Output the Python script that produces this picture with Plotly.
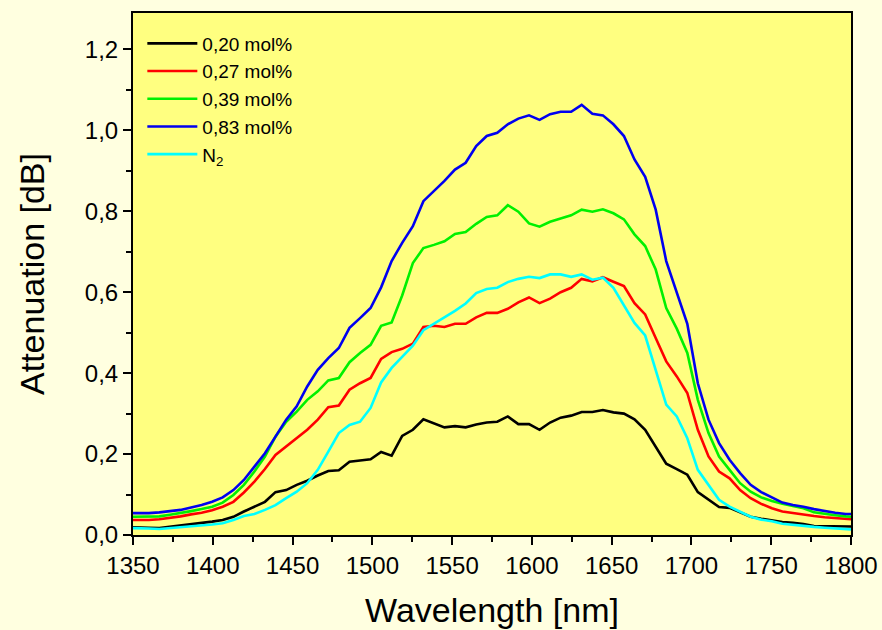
import plotly.graph_objects as go

wavelength = [1350.0, 1353.3, 1359.9, 1366.5, 1373.2, 1379.8, 1386.4, 1393.0, 1399.6, 1406.2,
              1412.9, 1419.5, 1426.1, 1432.7, 1439.3, 1446.0, 1452.6, 1459.2, 1465.8, 1472.4,
              1479.0, 1485.7, 1492.3, 1498.9, 1505.5, 1512.1, 1518.7, 1525.4, 1532.0, 1538.6,
              1545.2, 1551.8, 1558.5, 1565.1, 1571.7, 1578.3, 1584.9, 1591.5, 1598.2, 1604.8,
              1611.4, 1618.0, 1624.6, 1631.2, 1637.9, 1644.5, 1651.1, 1657.7, 1664.3, 1671.0,
              1677.6, 1684.2, 1690.8, 1697.4, 1704.0, 1710.7, 1717.3, 1723.9, 1730.5, 1737.1,
              1743.7, 1750.4, 1757.0, 1763.6, 1770.2, 1776.8, 1783.5, 1790.1, 1796.7, 1800.0]

att_020 = [0.019, 0.019, 0.018, 0.017, 0.020, 0.023, 0.027, 0.030, 0.033, 0.037,
           0.045, 0.058, 0.070, 0.082, 0.106, 0.111, 0.124, 0.134, 0.147, 0.158,
           0.160, 0.181, 0.184, 0.187, 0.205, 0.196, 0.245, 0.260, 0.286, 0.275,
           0.266, 0.269, 0.266, 0.273, 0.278, 0.280, 0.293, 0.274, 0.274, 0.260,
           0.278, 0.290, 0.295, 0.304, 0.304, 0.309, 0.303, 0.300, 0.286, 0.260,
           0.218, 0.176, 0.163, 0.149, 0.106, 0.088, 0.069, 0.067, 0.056, 0.045,
           0.040, 0.036, 0.032, 0.030, 0.027, 0.022, 0.022, 0.021, 0.021, 0.021]

att_027 = [0.037, 0.037, 0.037, 0.039, 0.042, 0.046, 0.051, 0.055, 0.061, 0.070,
           0.082, 0.105, 0.132, 0.163, 0.198, 0.219, 0.239, 0.260, 0.285, 0.316,
           0.320, 0.359, 0.375, 0.388, 0.435, 0.452, 0.460, 0.473, 0.514, 0.517,
           0.514, 0.522, 0.522, 0.538, 0.549, 0.549, 0.559, 0.575, 0.587, 0.573,
           0.584, 0.600, 0.611, 0.633, 0.627, 0.637, 0.626, 0.615, 0.573, 0.545,
           0.487, 0.429, 0.392, 0.351, 0.260, 0.194, 0.157, 0.140, 0.111, 0.091,
           0.077, 0.066, 0.058, 0.054, 0.050, 0.047, 0.044, 0.042, 0.039, 0.039]

att_039 = [0.045, 0.045, 0.045, 0.046, 0.050, 0.054, 0.059, 0.064, 0.070, 0.080,
           0.099, 0.124, 0.157, 0.194, 0.243, 0.280, 0.305, 0.334, 0.355, 0.382,
           0.388, 0.427, 0.450, 0.470, 0.517, 0.525, 0.592, 0.672, 0.709, 0.717,
           0.726, 0.744, 0.749, 0.769, 0.786, 0.790, 0.815, 0.799, 0.770, 0.762,
           0.774, 0.782, 0.790, 0.804, 0.799, 0.805, 0.795, 0.780, 0.743, 0.714,
           0.656, 0.561, 0.510, 0.450, 0.334, 0.252, 0.194, 0.161, 0.128, 0.107,
           0.093, 0.084, 0.077, 0.072, 0.066, 0.056, 0.052, 0.049, 0.046, 0.045]

att_083 = [0.054, 0.054, 0.054, 0.056, 0.059, 0.062, 0.068, 0.074, 0.082, 0.093,
           0.111, 0.136, 0.169, 0.202, 0.243, 0.285, 0.318, 0.367, 0.408, 0.437,
           0.462, 0.512, 0.536, 0.561, 0.612, 0.677, 0.722, 0.763, 0.825, 0.850,
           0.875, 0.903, 0.920, 0.961, 0.986, 0.994, 1.015, 1.029, 1.037, 1.026,
           1.040, 1.046, 1.046, 1.063, 1.041, 1.037, 1.015, 0.986, 0.928, 0.885,
           0.804, 0.677, 0.598, 0.522, 0.375, 0.285, 0.227, 0.186, 0.153, 0.124,
           0.106, 0.092, 0.080, 0.074, 0.070, 0.064, 0.059, 0.055, 0.052, 0.052]

att_n2 = [0.017, 0.017, 0.016, 0.015, 0.017, 0.019, 0.021, 0.024, 0.026, 0.029,
          0.037, 0.047, 0.052, 0.062, 0.074, 0.091, 0.107, 0.128, 0.161, 0.206,
          0.252, 0.272, 0.280, 0.314, 0.377, 0.413, 0.441, 0.468, 0.506, 0.522,
          0.536, 0.554, 0.572, 0.598, 0.608, 0.611, 0.625, 0.633, 0.638, 0.635,
          0.644, 0.644, 0.638, 0.644, 0.631, 0.636, 0.611, 0.569, 0.524, 0.493,
          0.408, 0.322, 0.293, 0.239, 0.161, 0.124, 0.087, 0.070, 0.058, 0.045,
          0.038, 0.034, 0.028, 0.025, 0.022, 0.020, 0.018, 0.017, 0.015, 0.014]

series_names = ["0,20 mol%", "0,27 mol%", "0,39 mol%", "0,83 mol%", "N<sub>2</sub>"]
series_values = [att_020, att_027, att_039, att_083, att_n2]
series_colors = ["#000000", "#FF0000", "#00F000", "#0000F0", "#00FFFF"]

FONT = "Liberation Sans, Arial, sans-serif"

fig = go.Figure()
for name, vals, col in zip(series_names, series_values, series_colors):
    fig.add_trace(go.Scatter(x=wavelength, y=vals, mode="lines", name=name,
                             line=dict(color=col, width=2.6)))

fig.update_layout(
    width=882, height=630,
    margin=dict(l=133, r=31, t=13, b=95, autoexpand=False),
    paper_bgcolor="#FFFFE0",
    plot_bgcolor="#FFFF80",
    separators=",.",
    font=dict(family=FONT, color="#000000"),
    showlegend=True,
    legend=dict(x=0.013, y=0.978, xanchor="left", yanchor="top",
                bgcolor="rgba(0,0,0,0)", font=dict(size=19, family=FONT),
                tracegroupgap=0, itemwidth=50),
)

fig.update_xaxes(
    range=[1350, 1800], tickmode="linear", tick0=1350, dtick=50, tickformat="d",
    ticks="outside", ticklen=8, tickwidth=2, tickcolor="#000",
    minor=dict(ticks="outside", ticklen=5, tickwidth=2, tickcolor="#000", dtick=25, tick0=1350),
    showline=True, linecolor="#000", linewidth=2, mirror=True,
    showgrid=False, zeroline=False, automargin=False,
    tickfont=dict(size=24, family=FONT),
    title=dict(text="Wavelength [nm]", font=dict(size=34, family=FONT), standoff=20),
)
fig.update_yaxes(
    range=[0, 1.29], tickmode="linear", tick0=0, dtick=0.2, tickformat=".1f",
    ticks="outside", ticklen=8, tickwidth=2, tickcolor="#000",
    minor=dict(ticks="outside", ticklen=5, tickwidth=2, tickcolor="#000", dtick=0.1, tick0=0),
    showline=True, linecolor="#000", linewidth=2, mirror=True,
    showgrid=False, zeroline=False, automargin=False,
    tickfont=dict(size=24, family=FONT),
    title=dict(text="Attenuation [dB]", font=dict(size=34, family=FONT), standoff=30),
)

fig.write_html("out.html", config={"displayModeBar": False},
               post_script="document.body.style.margin='0';document.body.style.background='#FFFFE0';")
